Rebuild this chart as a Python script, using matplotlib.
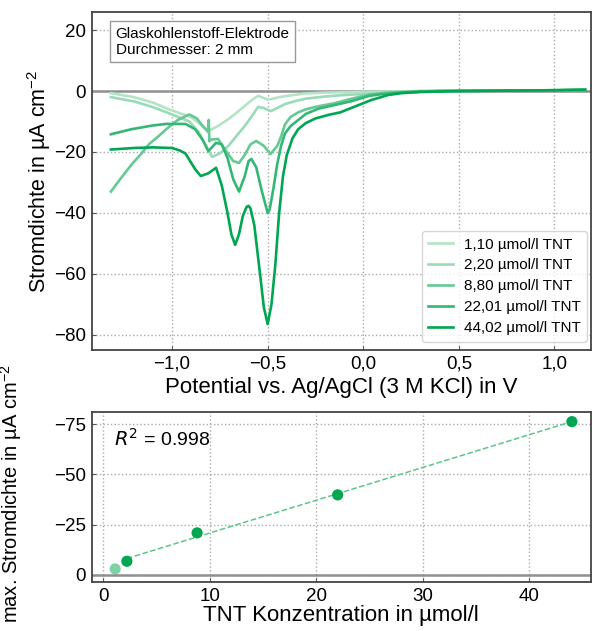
import numpy as np
import matplotlib
matplotlib.use("Agg")
import matplotlib.pyplot as plt
from matplotlib.ticker import FuncFormatter

plt.rcParams['font.family'] = ['Liberation Sans', 'DejaVu Sans']

# concentrations (legend) and colours
labels = ["1,10 µmol/l TNT", "2,20 µmol/l TNT", "8,80 µmol/l TNT",
          "22,01 µmol/l TNT", "44,02 µmol/l TNT"]
colors = ["#b3e4c5", "#99dbb9", "#66c995", "#33b874", "#00a651"]

# voltammograms (V, µA cm^-2)
v_110 = [-1.32, -1.2, -1.1, -1.02, -0.95, -0.91, -0.86, -0.81, -0.76, -0.705,
         -0.66, -0.62, -0.58, -0.55, -0.52, -0.5, -0.47, -0.44, -0.4, -0.3,
         -0.2, 0.0, 0.3, 0.6, 0.9, 1.16]
j_110 = [-0.7, -2.0, -3.8, -5.9, -7.5, -8.2, -10.5, -13.1, -11.5, -9.2,
         -7.0, -4.9, -2.8, -1.6, -2.3, -2.8, -2.5, -2.0, -1.6, -0.8,
         -0.5, -0.3, 0.0, 0.1, 0.2, 0.4]

v_220 = [-1.32, -1.2, -1.1, -1.02, -0.95, -0.91, -0.86, -0.82, -0.79, -0.75,
         -0.705, -0.66, -0.62, -0.58, -0.55, -0.52, -0.485, -0.45, -0.41, -0.35,
         -0.3, -0.2, -0.1, 0.0, 0.15, 0.3, 0.6, 0.9, 1.16]
j_220 = [-2.0, -3.4, -5.3, -7.2, -9.0, -10.0, -13.5, -18.5, -21.6, -20.5,
         -18.0, -14.5, -11.5, -8.0, -5.2, -5.6, -6.6, -5.6, -4.3, -3.2,
         -2.5, -1.8, -1.3, -1.0, -0.5, 0.0, 0.1, 0.2, 0.4]

v_880 = [-1.32, -1.26, -1.21, -1.16, -1.12, -1.07, -1.03, -0.97, -0.91, -0.87,
         -0.84, -0.81, -0.808, -0.805, -0.80, -0.76, -0.72, -0.68, -0.65, -0.62,
         -0.59, -0.56, -0.52, -0.485, -0.45, -0.43, -0.41, -0.38, -0.34, -0.3,
         -0.235, -0.15, -0.06, 0.03, 0.1, 0.2, 0.4, 0.7, 1.0, 1.16]
j_880 = [-33.0, -28.0, -24.0, -20.5, -17.4, -14.8, -12.5, -9.5, -7.7, -9.0,
         -11.5, -13.5, -9.5, -16.5, -16.0, -15.7, -19.5, -23.0, -23.6, -21.0,
         -17.5, -16.4, -18.0, -20.7, -18.0, -15.0, -11.0, -8.5, -7.0, -6.0,
         -5.0, -4.0, -2.5, -1.2, -0.7, -0.3, 0.0, 0.1, 0.2, 0.4]

v_2201 = [-1.32, -1.21, -1.1, -1.03, -0.93, -0.88, -0.84, -0.81, -0.77, -0.74,
          -0.71, -0.68, -0.65, -0.62, -0.60, -0.585, -0.56, -0.53, -0.50, -0.49,
          -0.47, -0.45, -0.43, -0.41, -0.38, -0.34, -0.3, -0.235, -0.15, -0.06,
          0.03, 0.1, 0.2, 0.4, 0.7, 1.0, 1.16]
j_2201 = [-14.2, -12.5, -11.3, -10.8, -10.8, -12.5, -16.0, -19.7, -17.0, -17.5,
          -22.0, -29.0, -33.0, -28.0, -23.0, -22.3, -25.0, -33.0, -40.0, -39.0,
          -32.0, -24.0, -18.0, -14.0, -11.5, -9.5, -7.5, -5.8, -4.6, -3.3,
          -1.6, -1.0, -0.5, 0.0, 0.1, 0.2, 0.4]

v_4402 = [-1.32, -1.2, -1.1, -1.0, -0.96, -0.93, -0.88, -0.85, -0.81, -0.77,
          -0.74, -0.71, -0.69, -0.67, -0.65, -0.63, -0.61, -0.60, -0.59, -0.57,
          -0.54, -0.52, -0.50, -0.48, -0.46, -0.44, -0.42, -0.40, -0.37, -0.34,
          -0.3, -0.25, -0.18, -0.12, -0.06, 0.0, 0.04, 0.13, 0.2, 0.3, 0.5,
          0.7, 0.9, 1.16]
j_4402 = [-19.2, -18.7, -18.5, -18.7, -19.5, -20.5, -25.6, -27.9, -27.0, -25.2,
          -31.0, -40.0, -47.0, -50.5, -47.0, -41.0, -38.0, -37.7, -38.5, -44.0,
          -60.0, -71.0, -76.5, -70.0, -57.0, -40.0, -28.0, -21.0, -15.5, -12.5,
          -10.5, -9.0, -7.8, -7.0, -5.5, -4.0, -3.0, -1.3, -0.7, -0.3, 0.0,
          0.1, 0.2, 0.4]

volts = [v_110, v_220, v_880, v_2201, v_4402]
currents = [j_110, j_220, j_880, j_2201, j_4402]

# calibration: concentration vs. peak current density
conc = [1.10, 2.20, 8.80, 22.01, 44.02]
peak = [-3.0, -6.8, -20.9, -39.8, -76.2]


def comma_fmt(x, pos):
    return f"{x:.1f}".replace('.', ',').replace('-', '\u2212')


fig = plt.figure(figsize=(5.92, 6.31), dpi=100)
ax1 = fig.add_axes([0.155, 0.4453, 0.843, 0.536])
ax2 = fig.add_axes([0.155, 0.0777, 0.843, 0.2694])

for ax in (ax1, ax2):
    ax.grid(True, linestyle=':', color='#aaaaaa', linewidth=1)
    ax.set_axisbelow(True)
    ax.tick_params(direction='in', labelsize=13.5, color='#555555', length=3,
                   pad=4)
    for s in ax.spines.values():
        s.set_color('#444444')
        s.set_linewidth(1.3)
    ax.axhline(0, color='#909090', linewidth=1.8, zorder=1)

# top: voltammograms
for v, j, c, lab in zip(volts, currents, colors, labels):
    ax1.plot(v, j, color=c, linewidth=1.9, label=lab, zorder=2)

ax1.set_xlim(-1.42, 1.19)
ax1.set_ylim(-85, 26)
ax1.set_xticks([-1.0, -0.5, 0.0, 0.5, 1.0])
ax1.set_yticks([-80, -60, -40, -20, 0, 20])
ax1.xaxis.set_major_formatter(FuncFormatter(comma_fmt))
ax1.set_xlabel("Potential vs. Ag/AgCl (3 M KCl) in V", fontsize=16, labelpad=3)
ax1.set_ylabel(r"Stromdichte in µA cm$^{\mathregular{-2}}$", fontsize=15.5)
ax1.yaxis.set_label_coords(-0.078, 0.5)

ax1.text(0.048, 0.956, "Glaskohlenstoff-Elektrode\nDurchmesser: 2 mm",
         transform=ax1.transAxes, fontsize=11, va='top', ha='left',
         linespacing=1.2,
         bbox=dict(boxstyle='square,pad=0.35', facecolor='white',
                   edgecolor='#999999', linewidth=1))

leg = ax1.legend(loc='lower right', fontsize=11, frameon=True,
                 handlelength=1.6, labelspacing=0.45, borderpad=0.45,
                 handletextpad=0.7, borderaxespad=0,
                 bbox_to_anchor=(0.993, 0.024))
leg.get_frame().set_edgecolor('#cccccc')

# bottom: calibration
fit_x = np.array(conc[1:])
k, d = np.polyfit(fit_x, peak[1:], 1)
ax2.plot([fit_x[0], fit_x[-1]], [k * fit_x[0] + d, k * fit_x[-1] + d],
         linestyle='--', color='#5cc68a', linewidth=1.1, zorder=2)
ax2.scatter(conc[:1], peak[:1], s=65, color='#00a651', alpha=0.5,
            edgecolors='none', zorder=3)
ax2.scatter(conc[1:], peak[1:], s=65, color='#00a651',
            edgecolors='none', zorder=3)

ax2.set_xlim(-1.1, 45.8)
ax2.set_ylim(3.5, -81)
ax2.set_yticks([0, -25, -50, -75])
ax2.set_xticks([0, 10, 20, 30, 40])
ax2.set_xlabel("TNT Konzentration in µmol/l", fontsize=16, labelpad=0)
ax2.set_ylabel(r"max. Stromdichte in µA cm$^{\mathregular{-2}}$", fontsize=14.5)
ax2.yaxis.set_label_coords(-0.135, 0.52)
ax2.text(0.045, 0.8, r"$R^2$ = 0.998", transform=ax2.transAxes, fontsize=14)

fig.savefig("out.png", dpi=100)
